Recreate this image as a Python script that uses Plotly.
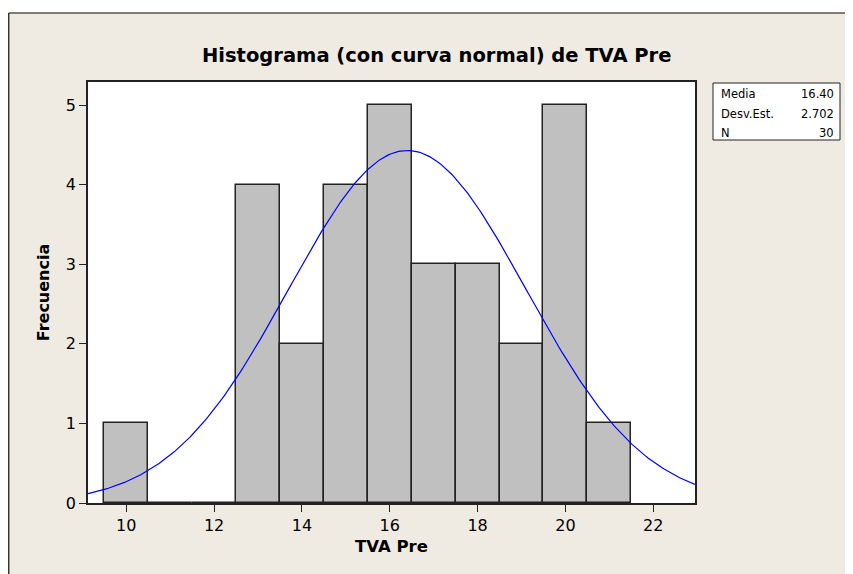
import numpy as np
import plotly.graph_objects as go

# Data
bin_centers = [10, 11, 12, 13, 14, 15, 16, 17, 18, 19, 20, 21]
frequencies = [1, 0, 0, 4, 2, 4, 5, 3, 3, 2, 5, 1]
x_ticks = [10, 12, 14, 16, 18, 20, 22]
y_ticks = [0, 1, 2, 3, 4, 5]
stat_labels = ["Media", "Desv.Est.", "N"]
stat_values = ["16.40", "2.702", "30"]
MEAN = 16.40
SD = 2.702
N = 30
BIN_WIDTH = 1.0
X_RANGE = [9.13, 22.95]
Y_RANGE = [0, 5.29]

# Fitted normal curve (scaled to counts)
xc = np.linspace(X_RANGE[0], X_RANGE[1], 300)
yc = N * BIN_WIDTH / (SD * np.sqrt(2 * np.pi)) * np.exp(-0.5 * ((xc - MEAN) / SD) ** 2)

BEIGE = "#EFEBE2"
FONT = "DejaVu Sans"
OFF = 8  # page body margin offset

# Target plot area in screenshot pixels: left 88, right 695, top 82, bottom 503
L, R, T, B = 88 - OFF, 695 - OFF, 82 - OFF, 503 - OFF
W, H = R - L, B - T

def px_x(p):
    return (p - OFF - L) / W

def px_y(p):
    return (B - (p - OFF)) / H

fig = go.Figure()
fig.add_trace(go.Bar(
    x=bin_centers, y=frequencies, width=BIN_WIDTH,
    marker=dict(color="#C0C0C0", line=dict(color="#222222", width=1.5)),
    hoverinfo="x+y",
))
fig.add_trace(go.Scatter(
    x=xc, y=yc, mode="lines", line=dict(color="#0000FF", width=1.2),
    hoverinfo="skip",
))

shapes = [
    # white strip above the beige frame
    dict(type="rect", xref="paper", yref="paper", x0=px_x(-50), x1=px_x(950),
         y0=px_y(13), y1=px_y(-50), fillcolor="white", line=dict(width=0), layer="above"),
    # frame lines
    dict(type="line", xref="paper", yref="paper", x0=px_x(8.7), x1=px_x(950),
         y0=px_y(13), y1=px_y(13), line=dict(color="#555555", width=1.5), layer="above"),
    dict(type="line", xref="paper", yref="paper", x0=px_x(8.7), x1=px_x(8.7),
         y0=px_y(13), y1=px_y(700), line=dict(color="#333333", width=1.5), layer="above"),
    # stats box
    dict(type="rect", xref="paper", yref="paper", x0=px_x(713), x1=px_x(840),
         y0=px_y(140), y1=px_y(83), fillcolor="white",
         line=dict(color="#222222", width=1), layer="above"),
]

annotations = [
    dict(text="<b>Histograma (con curva normal) de TVA Pre</b>", xref="paper", yref="paper",
         x=px_x(436), y=px_y(55), showarrow=False, xanchor="center", yanchor="middle",
         font=dict(family=FONT, size=19.5, color="#000000")),
]
row_y = [94, 114, 133]
for lab, val, ry in zip(stat_labels, stat_values, row_y):
    annotations.append(dict(text=lab, xref="paper", yref="paper", x=px_x(719), y=px_y(ry),
                            showarrow=False, xanchor="left", yanchor="middle",
                            font=dict(family=FONT, size=11.5, color="#000000")))
    annotations.append(dict(text=val, xref="paper", yref="paper", x=px_x(836), y=px_y(ry),
                            showarrow=False, xanchor="right", yanchor="middle",
                            font=dict(family=FONT, size=11.5, color="#000000")))

fig.update_layout(
    width=853, height=574,
    margin=dict(l=L, r=853 - R, t=T, b=574 - B, pad=0),
    paper_bgcolor=BEIGE, plot_bgcolor="white",
    showlegend=False, bargap=0,
    shapes=shapes, annotations=annotations,
    font=dict(family=FONT, color="#000000"),
    xaxis=dict(
        range=X_RANGE, tickvals=x_ticks, ticktext=[str(v) for v in x_ticks],
        ticks="outside", ticklen=7, tickwidth=1.3, tickcolor="#222222",
        showline=True, linecolor="#222222", linewidth=1.5, mirror=True,
        showgrid=False, zeroline=False,
        tickfont=dict(family=FONT, size=16, color="#000000"),
        title=dict(text="<b>TVA Pre</b>", font=dict(family=FONT, size=16.5, color="#000000"), standoff=6),
    ),
    yaxis=dict(
        range=Y_RANGE, tickvals=y_ticks, ticktext=[str(v) for v in y_ticks],
        ticks="outside", ticklen=7, tickwidth=1.3, tickcolor="#222222",
        showline=True, linecolor="#222222", linewidth=1.5, mirror=True,
        showgrid=False, zeroline=False,
        tickfont=dict(family=FONT, size=16, color="#000000"),
        title=dict(text="<b>Frecuencia</b>", font=dict(family=FONT, size=16, color="#000000"), standoff=12),
    ),
)

fig.write_html("out.html")
